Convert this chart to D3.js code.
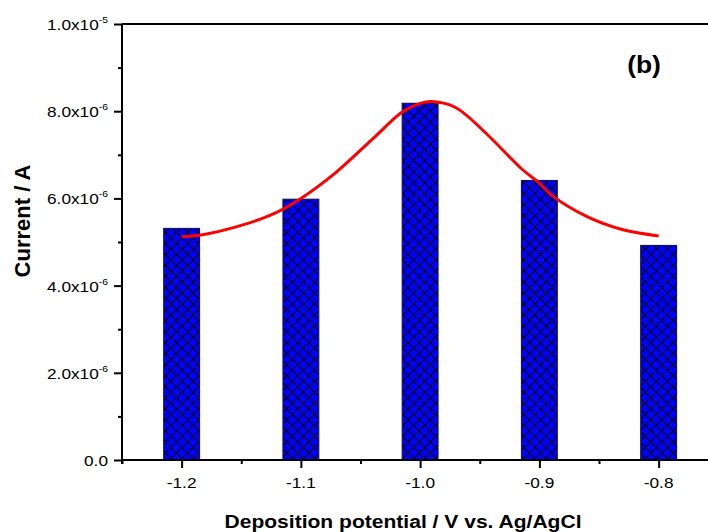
<!DOCTYPE html>
<html>
<head>
<meta charset="utf-8">
<script src="https://cdn.jsdelivr.net/npm/d3@7"></script>
<style>
  html, body { margin: 0; padding: 0; background: #fff; }
  svg { display: block; font-family: "Liberation Sans", Arial, sans-serif; }
</style>
</head>
<body>
<svg id="chart" width="708" height="532"></svg>
<script>
// ---- data ----
const potentials = [-1.2, -1.1, -1.0, -0.9, -0.8];
const currents = [5.31e-6, 5.98e-6, 8.18e-6, 6.41e-6, 4.92e-6];

const fitX = [-1.2, -1.18, -1.155, -1.125, -1.1, -1.07, -1.04, -1.015, -1.0, -0.99, -0.97, -0.945, -0.915, -0.9, -0.89, -0.86, -0.83, -0.8];
const fitY = [5.12e-6, 5.18e-6, 5.34e-6, 5.62e-6, 6.0e-6, 6.61e-6, 7.36e-6, 7.98e-6, 8.18e-6, 8.22e-6, 8.08e-6, 7.5e-6, 6.68e-6, 6.35e-6, 6.08e-6, 5.58e-6, 5.28e-6, 5.14e-6];

const xTickValues = [-1.2, -1.1, -1.0, -0.9, -0.8];
const xTickLabels = ["-1.2", "-1.1", "-1.0", "-0.9", "-0.8"];
const xMinorTicks = [-1.25, -1.15, -1.05, -0.95, -0.85];
const yTickValues = [0, 2e-6, 4e-6, 6e-6, 8e-6, 1e-5];
const yTickMantissa = ["0.0", "2.0x10", "4.0x10", "6.0x10", "8.0x10", "1.0x10"];
const yTickExponent = ["", "-6", "-6", "-6", "-6", "-5"];
const yMinorTicks = [1e-6, 3e-6, 5e-6, 7e-6, 9e-6];

const xTitle = "Deposition potential / V vs. Ag/AgCl";
const yTitle = "Current / A";
const panelLabel = "(b)";
const barWidthUnits = 0.03;

// ---- layout ----
const svg = d3.select("#chart");
const x = d3.scaleLinear().domain([-1.25, -0.75]).range([122, 718.25]);
const y = d3.scaleLinear().domain([0, 1e-5]).range([460, 24]);

const defs = svg.append("defs");
const cell = 7.8;
const pat = defs.append("pattern")
  .attr("id", "hatch").attr("patternUnits", "userSpaceOnUse")
  .attr("width", cell).attr("height", cell)
  .attr("patternTransform", "rotate(45)");
pat.append("rect").attr("width", cell).attr("height", cell).attr("fill", "#0000ff");
pat.append("rect").attr("width", cell).attr("height", 1).attr("fill", "#000");
pat.append("rect").attr("width", 1).attr("height", cell).attr("fill", "#000");

// bars
svg.append("g").selectAll("rect").data(potentials).join("rect")
  .attr("x", (d) => x(d - barWidthUnits / 2))
  .attr("width", (d) => x(d + barWidthUnits / 2) - x(d - barWidthUnits / 2))
  .attr("y", (d, i) => y(currents[i]))
  .attr("height", (d, i) => y(0) - y(currents[i]))
  .attr("fill", "url(#hatch)")
  .attr("stroke", "#14145a").attr("stroke-width", 1.2);

// fit curve
const fitPts = fitX.map((v, i) => [v, fitY[i]]);
svg.append("path")
  .datum(fitPts)
  .attr("d", d3.line().x(d => x(d[0])).y(d => y(d[1])).curve(d3.curveCatmullRom.alpha(0.5)))
  .attr("fill", "none").attr("stroke", "#ff0000").attr("stroke-width", 3);

// axes
const xAxis = svg.append("g").attr("transform", `translate(0,${y(0)})`)
  .call(d3.axisBottom(x).tickValues(xTickValues).tickSize(8).tickFormat(""));
xAxis.select(".domain").attr("stroke", "#000").attr("stroke-width", 2).attr("d", `M${x(-1.25)},0H${x(-0.75)}`);
xAxis.selectAll(".tick line").attr("stroke-width", 2);
const xMinor = svg.append("g").attr("transform", `translate(0,${y(0)})`)
  .call(d3.axisBottom(x).tickValues(xMinorTicks).tickSize(4).tickFormat(""));
xMinor.select(".domain").remove();
xMinor.selectAll(".tick line").attr("stroke-width", 2);

const yAxis = svg.append("g").attr("transform", `translate(${x(-1.25)},0)`)
  .call(d3.axisLeft(y).tickValues(yTickValues).tickSize(8).tickFormat(""));
yAxis.select(".domain").attr("stroke", "#000").attr("stroke-width", 2).attr("d", `M0,${y(0) + 4}V${y(1e-5)}`);
yAxis.selectAll(".tick line").attr("stroke-width", 2);
const yMinor = svg.append("g").attr("transform", `translate(${x(-1.25)},0)`)
  .call(d3.axisLeft(y).tickValues(yMinorTicks).tickSize(4).tickFormat(""));
yMinor.select(".domain").remove();
yMinor.selectAll(".tick line").attr("stroke-width", 2);

// top frame line
svg.append("line")
  .attr("x1", x(-1.25)).attr("x2", x(-0.75))
  .attr("y1", y(1e-5)).attr("y2", y(1e-5))
  .attr("stroke", "#000").attr("stroke-width", 2);

// x tick labels
svg.append("g").selectAll("text").data(xTickValues).join("text")
  .attr("transform", d => `translate(${x(d)},488) scale(1.15,1)`)
  .attr("text-anchor", "middle").attr("font-size", 15).attr("fill", "#000")
  .text((d, i) => xTickLabels[i]);

// y tick labels
const yl = svg.append("g").selectAll("text").data(yTickValues).join("text")
  .attr("transform", d => `translate(108,${y(d) + 6}) scale(1.15,1)`)
  .attr("text-anchor", "end").attr("font-size", 15).attr("fill", "#000");
yl.append("tspan").text((d, i) => yTickMantissa[i]);
yl.append("tspan").attr("font-size", 9).attr("dy", -7).text((d, i) => yTickExponent[i]);

// titles
svg.append("text")
  .attr("x", 403).attr("y", 528).attr("text-anchor", "middle")
  .attr("font-size", 18).attr("font-weight", "bold")
  .attr("textLength", 357).attr("lengthAdjust", "spacingAndGlyphs")
  .text(xTitle);
svg.append("text")
  .attr("transform", "translate(30,221) rotate(-90)")
  .attr("text-anchor", "middle").attr("font-size", 22).attr("font-weight", "bold")
  .text(yTitle);
svg.append("text")
  .attr("transform", "translate(644,73) scale(1.15,1)")
  .attr("text-anchor", "middle").attr("font-size", 23).attr("font-weight", "bold")
  .text(panelLabel);
</script>
</body>
</html>
